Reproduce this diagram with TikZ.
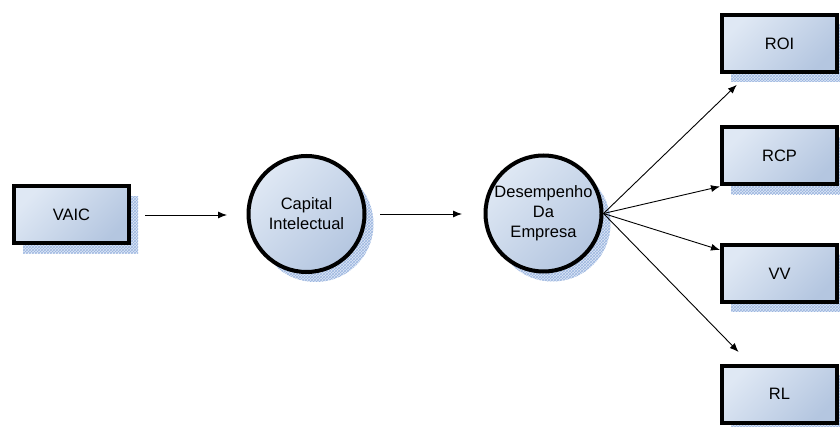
\documentclass[tikz,border=0pt]{standalone}
\usepackage{fontspec}
\setmainfont{Liberation Sans}
\usetikzlibrary{arrows.meta,shadows,patterns}

\definecolor{fillLight}{HTML}{DFE8F4}
\definecolor{fillDark}{HTML}{B4C6E0}
\definecolor{shadowBase}{HTML}{DDE7F6}
\definecolor{shadowHatch}{HTML}{9CB6E0}

\tikzset{
  hatchshadow/.style={
    drop shadow={shadow xshift=9pt, shadow yshift=-10pt, opacity=1, fill=shadowBase, draw=none},
    drop shadow={shadow xshift=9pt, shadow yshift=-10pt, opacity=1, pattern=crosshatch, pattern color=shadowHatch, draw=none}},
  shapebase/.style={draw=black, line width=4pt, inner sep=0pt, align=center,
    top color=fillLight, bottom color=fillDark, shading angle=45,
    font=\fontsize{16.5}{20}\selectfont, hatchshadow},
  boxnode/.style={shapebase, rectangle, minimum width=115pt, minimum height=57pt},
  ballnode/.style={shapebase, circle, minimum size=116pt},
  flow/.style={-{Latex[length=9pt,width=7pt]}, line width=0.9pt, black}
}

\begin{document}
\begin{tikzpicture}[x=1pt, y=-1pt]
  \useasboundingbox (0,0) rectangle (840,427);

  % input, mediator and outcome
  \node[boxnode]  (vaic) at (71.5,215)   {VAIC};
  \node[ballnode] (cap)  at (306.5,214)  {Capital\\Intelectual};
  \node[ballnode] (des)  at (543.5,213.5){Desempenho\\Da\\Empresa};

  % performance indicators
  \node[boxnode] (roi) at (779.5,43.5) {ROI};
  \node[boxnode] (rcp) at (779.5,156)  {RCP};
  \node[boxnode] (vv)  at (779.5,273.5){VV};
  \node[boxnode] (rl)  at (779.5,394)  {RL};

  % connectors
  \draw[flow, shorten <=14pt, shorten >=19.5pt] (vaic.east) -- (vaic.east -| cap.west);
  \draw[flow, shorten <=13.5pt, shorten >=21.5pt] (cap.east) -- (cap.east -| des.west);

  \draw[flow, shorten >=15.5pt] (des.east) -- (roi);
  \draw[flow] (des.east) -- (rcp.south west);
  \draw[flow] (des.east) -- ([yshift=-7pt]vv.north west);
  \draw[flow, shorten >=16pt] (des.east) -- (rl);
\end{tikzpicture}
\end{document}
